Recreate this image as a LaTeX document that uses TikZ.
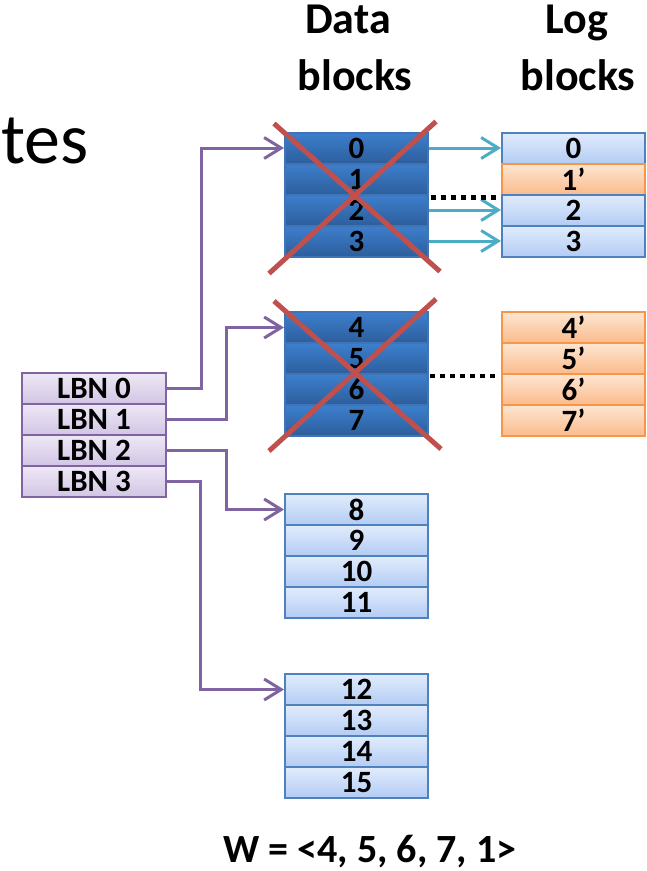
\documentclass[tikz,border=0pt]{standalone}
\usepackage{fontspec}
\setmainfont{Carlito}
\usetikzlibrary{arrows.meta,calc}

\definecolor{datatop}{HTML}{3D7FCD}
\definecolor{databot}{HTML}{2D5E9C}
\definecolor{datab}{HTML}{3F74B6}
\definecolor{logtop}{HTML}{E1ECFC}
\definecolor{logbot}{HTML}{B3CCF4}
\definecolor{logb}{HTML}{4F81BD}
\definecolor{orgtop}{HTML}{FDE6D2}
\definecolor{orgbot}{HTML}{FBBB8C}
\definecolor{orgb}{HTML}{F79646}
\definecolor{lbntop}{HTML}{EEE8F5}
\definecolor{lbnbot}{HTML}{D2C5E5}
\definecolor{lbnb}{HTML}{8064A2}
\definecolor{purp}{HTML}{8064A2}
\definecolor{cyanline}{HTML}{4BACC6}
\definecolor{xred}{HTML}{C0504D}

\tikzset{
  cell/.style={minimum width=143pt, minimum height=31pt, inner sep=0pt,
    line width=2pt, font=\fontsize{31}{31}\selectfont\bfseries},
  datacell/.style={cell, draw=datab, top color=datatop, bottom color=databot},
  logcell/.style={cell, draw=logb, top color=logtop, bottom color=logbot},
  newcell/.style={cell, draw=orgb, top color=orgtop, bottom color=orgbot},
  lbncell/.style={cell, minimum width=144pt, draw=lbnb, top color=lbntop, bottom color=lbnbot},
  barb/.tip={Straight Barb[length=17pt,width=21pt,line width=3pt]},
  map/.style={draw=purp, line width=3pt, -barb},
  logmap/.style={draw=cyanline, line width=3pt, -barb},
  dots/.style={draw=black, line width=4.5pt, dash pattern=on 4.5pt off 5.5pt},
  cross/.style={draw=xred, line width=5pt},
  title/.style={anchor=base, font=\fontsize{44}{44}\selectfont\bfseries},
}

\begin{document}
\begin{tikzpicture}[x=1pt, y=-1pt]
\useasboundingbox (0,0) rectangle (646,871);

% headings
\node[title] (dt1) at (348,33) {Data};
\node[title] (dt2) at (355,90) {blocks};
\node[title] (lt1) at (577,33) {Log};
\node[title] (lt2) at (578,90) {blocks};
\node[anchor=base west, inner sep=0pt, font=\fontsize{72}{72}\selectfont] (ttl) at (1,163) {tes};

% logical block numbers
\foreach \i/\y in {0/388.5,1/419.5,2/450.5,3/481.5}
  \node[lbncell] (lbn\i) at (94,\y) {LBN \i};

% data blocks
\foreach \i/\y in {0/148,1/179,2/210,3/241,4/327.5,5/358.5,6/389.5,7/420.5}
  \node[datacell] (d\i) at (356.5,\y) {\i};
\foreach \i/\y in {8/509.5,9/540.5,10/571.5,11/602.5,12/689.5,13/720.5,14/751.5,15/782.5}
  \node[logcell] (d\i) at (356.5,\y) {\i};

% log blocks
\node[logcell] (l0) at (573.5,148) {0};
\node[newcell] (l1) at (573.5,179) {1’};
\node[logcell] (l2) at (573.5,210) {2};
\node[logcell] (l3) at (573.5,241) {3};
\node[newcell] (n4) at (573.5,327.5) {4’};
\node[newcell] (n5) at (573.5,358.5) {5’};
\node[newcell] (n6) at (573.5,389.5) {6’};
\node[newcell] (n7) at (573.5,420.5) {7’};

% invalidated data blocks
\draw[cross] ($(d0.north west)+(-10,-8)$) -- ($(d3.south east)+(11,14)$);
\draw[cross] ($(d0.north east)+(7,-10)$) -- ($(d3.south west)+(-15,16)$);
\draw[cross] ($(d4.north west)+(-10,-10)$) -- ($(d7.south east)+(12,12)$);
\draw[cross] ($(d4.north east)+(7,-12)$) -- ($(d7.south west)+(-15,14)$);

% mapping table
\draw[map] (lbn0.east) -- ++(34,0) |- (d0.west);
\draw[map] (lbn1.east) -- ++(59,0) |- (d4.west);
\draw[map] (lbn2.east) -- ++(59,0) |- (d8.west);
\draw[map] (lbn3.east) -- ++(33,0) |- (d12.west);

% log associations
\draw[logmap] (d0.east) -- (l0.west);
\draw[logmap] (d2.east) -- (l2.west);
\draw[logmap] (d3.east) -- (l3.west);
\draw[dots] ($(d1.south east)+(2,2)$) -- ($(l1.south west)+(-4,2)$);
\draw[dots] ($(d5.south east)+(1,1)$) -- ($(n5.south west)+(-4,1)$);

% write sequence
\node[anchor=base, inner sep=0pt, font=\fontsize{40}{40}\selectfont\bfseries] (seq) at (370,862) {W = <4, 5, 6, 7, 1>};
\end{tikzpicture}
\end{document}
